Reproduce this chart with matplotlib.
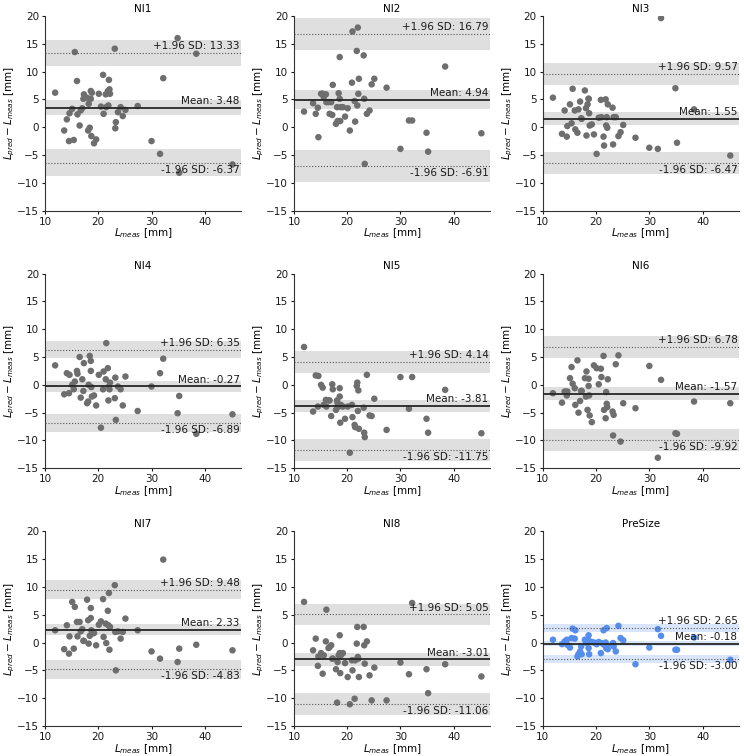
import numpy as np
import matplotlib
matplotlib.use("Agg")
import matplotlib.pyplot as plt

# Shared measured lengths (mm)
L_meas = [11.9, 13.6, 14.1, 14.5, 14.6, 15.1, 15.4, 15.6, 16.0, 16.1,
          16.5, 16.7, 17.0, 17.2, 17.3, 17.9, 18.1, 18.2, 18.4, 18.6,
          18.6, 18.7, 18.8, 19.2, 19.6, 20.1, 20.5, 20.9, 21.0, 21.4,
          21.5, 21.8, 21.9, 22.0, 22.1, 22.2, 23.1, 23.2, 23.3, 23.7,
          24.2, 24.6, 25.1, 27.4, 30.0, 31.6, 32.2, 34.9, 35.2, 38.4, 45.2]

# Differences L_pred - L_meas (mm) per method
diff_NI1 = [6.2, -0.6, 1.4, -2.5, 2.5, 3.3, -2.3, 13.5, 8.3, 2.3,
            0.3, 3.0, 3.4, 5.1, 5.9, 5.3, -0.6, 4.2, -0.1, 6.5,
            5.1, -1.6, 6.2, -2.9, -2.2, 6.0, 3.7, 9.4, 2.4, 5.9,
            3.6, 6.5, 3.9, 8.5, 6.8, 6.0, 14.1, -0.2, 0.9, 2.7,
            3.6, 2.0, 3.1, 3.8, -2.5, -4.8, 8.8, 16.0, -8.2, 13.2, -6.7]
diff_NI2 = [2.8, 4.3, 2.4, 3.5, -1.8, 6.0, 6.0, 5.4, 5.9, 4.5,
            4.5, 2.4, 4.5, 2.2, 7.6, 0.6, 3.6, 1.1, 6.1, 12.6,
            5.1, 1.1, 3.6, 3.6, 1.9, 3.4, -0.6, 8.0, 17.2, 4.7,
            1.0, 13.7, 3.9, 17.9, 6.0, 8.7, 12.9, 5.1, -6.6, 2.4,
            3.0, 7.7, 8.7, 7.1, -3.9, 1.2, 1.2, -1.0, -4.4, 10.9, -1.1]
diff_NI3 = [5.3, -1.2, 3.0, -1.7, 0.2, 4.1, 0.7, 6.9, 3.0, -0.4,
            -1.0, 3.2, 4.6, 1.6, 1.5, 6.6, 3.4, -1.5, 4.1, 5.1,
            5.1, 2.5, 0.3, 0.5, -1.3, -4.8, 1.7, 4.9, 1.8, -1.7,
            -3.3, 5.0, 0.3, 1.8, -0.1, 4.1, 3.5, -3.1, 1.8, 1.8,
            -1.6, -0.9, 0.4, -1.9, -3.7, -3.9, 19.6, 7.0, -2.8, 3.2, -5.1]
diff_NI4 = [3.5, -1.7, 2.1, -1.5, 1.8, 0.0, -0.8, 0.6, 2.5, 2.0,
            5.0, -2.3, 1.0, -1.1, 3.9, -3.3, -3.0, 0.0, 5.2, 4.3,
            2.5, -0.4, -2.1, -1.9, -3.7, 1.8, -7.7, -0.8, 2.4, 1.0,
            7.5, 3.0, -2.8, -0.3, -0.8, 0.4, -2.4, 1.3, -6.3, -0.3,
            -0.8, -3.7, 1.5, -4.7, -0.3, 2.1, 4.7, -5.1, -2.0, -8.8, -5.3]
diff_NI5 = [6.8, -4.8, 1.7, -3.9, 1.6, 0.0, -0.5, -3.6, -2.7, -3.9,
            -2.8, -2.8, -5.6, 0.1, -0.8, -4.5, -2.8, -3.3, -3.9, -0.6,
            -2.1, -6.8, -3.6, -3.9, -6.1, -3.9, -12.2, -3.6, -5.8, -7.2,
            -7.6, -0.2, 0.4, -4.7, -1.0, -7.9, -4.1, -8.6, -9.4, 1.8,
            -5.5, -5.6, -2.5, -8.1, 1.4, -4.3, 1.4, -6.1, -8.6, -0.9, -8.7]
diff_NI6 = [-1.5, -3.2, -1.2, -1.9, -1.2, 1.2, 3.2, 0.2, -0.6, -3.6,
            4.4, -5.0, -2.9, -1.1, -1.1, 1.2, -2.1, 2.4, -4.5, 1.1,
            -0.2, -1.9, -5.5, -6.7, 3.5, 3.0, 0.1, 2.9, 1.4, 5.2,
            -4.5, -6.0, -1.3, -3.4, -4.0, 1.0, -4.8, -9.1, -5.4, 3.7,
            5.3, -10.2, -3.3, -4.2, 3.4, -13.1, 0.9, -8.7, -8.8, -3.0, -3.3]
diff_NI7 = [2.2, -1.2, 3.1, -2.0, 1.1, 7.3, -1.1, 6.4, 3.7, 1.1,
            3.7, 2.0, 2.4, 0.3, 0.3, 7.7, 4.0, -0.2, 1.2, 6.2,
            4.4, 2.2, 1.6, 1.7, -0.5, 3.2, 3.8, 7.8, 1.0, 3.4,
            -0.1, 5.7, 3.1, 8.9, -1.3, 2.8, 10.3, 1.9, -5.0, 2.0,
            0.7, 1.9, 4.3, 2.2, -1.6, -2.9, 14.9, -3.5, -1.1, -0.4, -1.4]
diff_NI8 = [7.3, -1.4, 0.7, -4.2, -2.5, -1.9, -5.6, -2.3, 0.2, 5.9,
            -1.0, -0.8, -0.5, -2.9, -2.9, -4.8, -10.8, -3.5, -2.3, 1.3,
            -1.9, -5.5, -2.3, -1.9, -3.7, -6.2, -11.1, -3.2, -5.0, -10.1,
            -3.2, -0.2, 2.8, -2.6, -2.9, -6.2, 2.8, -0.5, -3.8, 0.2,
            -5.9, -10.4, -4.5, -10.4, -3.6, -5.7, 7.1, -4.8, -9.1, -3.9, -6.1]
diff_PreSize = [0.5, -0.3, 0.2, 0.5, -0.4, -0.9, 0.8, 2.5, 0.7, 2.2,
                -2.5, -2.1, -1.6, -0.7, -2.1, 0.5, 0.2, -0.1, 0.5, 1.3,
                -1.0, -2.1, 0.2, 0.1, 0.0, -0.3, 0.1, -1.9, -0.1, 2.2,
                -0.4, 0.0, -1.0, 2.6, -0.7, -1.2, -0.3, -0.1, -0.7, -1.6,
                3.0, 0.8, 0.4, -3.9, -0.9, 2.4, 1.2, -1.3, -1.3, 0.9, -3.1]

methods = ["NI1", "NI2", "NI3", "NI4", "NI5", "NI6", "NI7", "NI8", "PreSize"]
diffs = [diff_NI1, diff_NI2, diff_NI3, diff_NI4, diff_NI5, diff_NI6,
         diff_NI7, diff_NI8, diff_PreSize]
mean_diff = [3.48, 4.94, 1.55, -0.27, -3.81, -1.57, 2.33, -3.01, -0.18]
loa_upper = [13.33, 16.79, 9.57, 6.35, 4.14, 6.78, 9.48, 5.05, 2.65]
loa_lower = [-6.37, -6.91, -6.47, -6.89, -11.75, -9.92, -4.83, -11.06, -3.00]

GREY = "#6e6e6e"
BLUE = "#558ded"

plt.rcParams["font.family"] = ["DejaVu Sans"]
plt.rcParams["font.size"] = 7.5

fig, axes = plt.subplots(3, 3, figsize=(7.44, 7.56), dpi=100)
fig.subplots_adjust(left=0.0605, right=0.993, top=0.979, bottom=0.0397,
                    wspace=0.27, hspace=0.323)

XMAX = 46.8
n = len(L_meas)
for ax, name, d, m, up, lo in zip(axes.flat, methods, diffs, mean_diff,
                                  loa_upper, loa_lower):
    col = BLUE if name == "PreSize" else GREY
    sd = (up - m) / 1.96
    ci_mean = 1.96 * sd / np.sqrt(n)
    ci_loa = 1.96 * sd * np.sqrt(3.0 / n)

    ax.axhspan(up - ci_loa, up + ci_loa, color=col, alpha=0.22, lw=0, zorder=0)
    ax.axhspan(m - ci_mean, m + ci_mean, color=col, alpha=0.22, lw=0, zorder=0)
    ax.axhspan(lo - ci_loa, lo + ci_loa, color=col, alpha=0.22, lw=0, zorder=0)

    ax.scatter(L_meas, d, s=22, color=col, edgecolors="none", zorder=2)

    ax.axhline(m, color="#262626", lw=1.3, zorder=3)
    ax.axhline(up, color="#555555", lw=0.8, ls=":", zorder=3)
    ax.axhline(lo, color="#555555", lw=0.8, ls=":", zorder=3)

    tkw = dict(xycoords="data", textcoords="offset points", ha="right",
               fontsize=7.5, color="#1a1a1a", zorder=4)
    ax.annotate(f"+1.96 SD: {up:.2f}", xy=(XMAX, up), xytext=(-1, 1.2),
                va="bottom", **tkw)
    ax.annotate(f"Mean: {m:.2f}", xy=(XMAX, m), xytext=(-1, 1.2),
                va="bottom", **tkw)
    ax.annotate(f"-1.96 SD: {lo:.2f}", xy=(XMAX, lo), xytext=(-1, -1.5),
                va="top", **tkw)

    ax.set_xlim(10, XMAX)
    ax.set_ylim(-15, 20)
    ax.set_xticks([10, 20, 30, 40])
    ax.set_yticks(np.arange(-15, 21, 5))
    ax.spines["top"].set_visible(False)
    ax.spines["right"].set_visible(False)
    for s in ("left", "bottom"):
        ax.spines[s].set_color("#333333")
        ax.spines[s].set_linewidth(0.8)
    ax.tick_params(length=2.5, width=0.8, pad=1.8, labelsize=7.5, colors="#1a1a1a")
    ax.set_title(name, fontsize=7.5, pad=3)
    ax.set_xlabel(r"$L_{meas}$ [mm]", fontsize=7.5, labelpad=0)
    ax.set_ylabel(r"$L_{pred} - L_{meas}$ [mm]", fontsize=7.5, labelpad=0)

fig.savefig("out.png", dpi=100)
